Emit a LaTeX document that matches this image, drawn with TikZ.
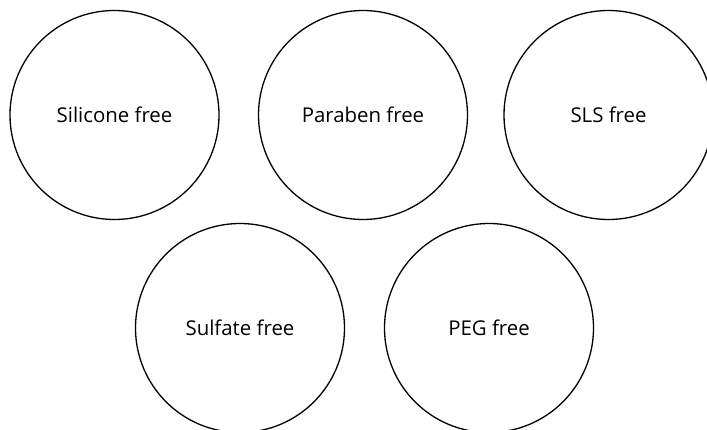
\documentclass[tikz,border=0pt]{standalone}
\usepackage{fontspec}
\setmainfont{Open Sans}
\usepackage{tikz}
\tikzset{
	% One node style for the labelled rings
	ring node/.style={circle,draw,line width=1.3pt,minimum size=209pt,inner sep=0pt,font=\fontsize{20.4}{24}\selectfont}
}

\begin{document}
\begin{tikzpicture}[x=1pt,y=-1pt]
	\useasboundingbox (0,0) rectangle (707,430);
	% top row
	\node(1-1)[ring node] at (114.5,115){Silicone free};
	\node(1-2)[ring node] at (363,115){Paraben free};
	\node(1-3)[ring node] at (608.5,115){SLS free};
	% bottom row
	\node(2-1)[ring node] at (240,328){Sulfate free};
	\node(2-2)[ring node] at (489,328){PEG free};
\end{tikzpicture}
\end{document}
